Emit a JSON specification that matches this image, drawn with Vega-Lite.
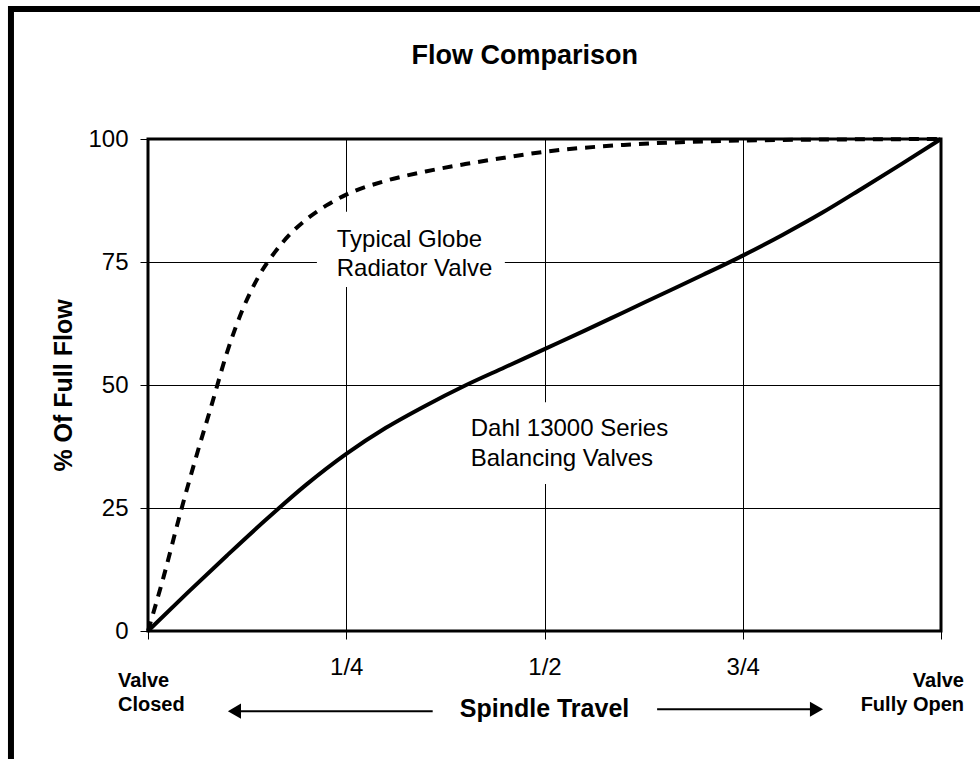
{
  "$schema": "https://vega.github.io/schema/vega-lite/v6.json",
  "autosize": {"type": "none"},
  "width": 793,
  "height": 492,
  "padding": {"left": 148, "top": 139, "right": 39, "bottom": 128},
  "background": "white",
  "config": {
    "font": "Liberation Sans",
    "view": {"stroke": "black", "strokeWidth": 3},
    "axis": {
      "grid": true,
      "gridColor": "black",
      "gridWidth": 1,
      "gridOpacity": 1,
      "domain": false,
      "tickColor": "black",
      "tickWidth": 1,
      "tickSize": 8,
      "labelColor": "black",
      "labelFont": "Liberation Sans",
      "labelFontSize": 24,
      "titleColor": "black",
      "titleFont": "Liberation Sans"
    }
  },
  "layer": [
    {
      "data": {"values": [{"a": 1}]},
      "mark": {"type": "rect", "fill": "white", "stroke": null},
      "encoding": {
        "x": {"datum": 0.213, "type": "quantitative", "scale": {"domain": [0, 1], "nice": false, "zero": false},
          "axis": {
            "values": [0, 0.25, 0.5, 0.75, 1],
            "labelExpr": "datum.value == 0.25 ? '1/4' : datum.value == 0.5 ? '1/2' : datum.value == 0.75 ? '3/4' : ''",
            "labelPadding": 16,
            "labelFlush": false,
            "title": null
          }},
        "x2": {"datum": 0.45},
        "y": {"datum": 85.2, "type": "quantitative", "scale": {"domain": [0, 100], "nice": false, "zero": false},
          "axis": {
            "values": [0, 25, 50, 75, 100],
            "labelPadding": 12,
            "title": "% Of Full Flow",
            "titleFontSize": 25,
            "titleFontWeight": "bold",
            "titlePadding": 11
          }},
        "y2": {"datum": 69.9}
      }
    },
    {
      "data": {"values": [{"a": 1}]},
      "mark": {"type": "rect", "fill": "white", "stroke": null},
      "encoding": {
        "x": {"datum": 0.382, "type": "quantitative"},
        "x2": {"datum": 0.709},
        "y": {"datum": 46.5, "type": "quantitative"},
        "y2": {"datum": 29.9}
      }
    },
    {
      "data": {"values": [
        {"travel": 0, "flow": 0},
        {"travel": 0.02, "flow": 11.2},
        {"travel": 0.04, "flow": 23.5},
        {"travel": 0.06, "flow": 35},
        {"travel": 0.08, "flow": 45.8},
        {"travel": 0.1, "flow": 56.8},
        {"travel": 0.12, "flow": 65.6},
        {"travel": 0.14, "flow": 72.2},
        {"travel": 0.16, "flow": 77},
        {"travel": 0.18, "flow": 80.8},
        {"travel": 0.2, "flow": 83.7},
        {"travel": 0.225, "flow": 86.5},
        {"travel": 0.25, "flow": 88.7},
        {"travel": 0.3, "flow": 91.5},
        {"travel": 0.35, "flow": 93.4},
        {"travel": 0.4, "flow": 94.9},
        {"travel": 0.45, "flow": 96.2},
        {"travel": 0.5, "flow": 97.4},
        {"travel": 0.6, "flow": 98.8},
        {"travel": 0.7, "flow": 99.5},
        {"travel": 0.8, "flow": 99.8},
        {"travel": 1, "flow": 100}
      ]},
      "mark": {"type": "line", "color": "black", "strokeWidth": 4, "strokeDash": [10, 8], "interpolate": "monotone"},
      "encoding": {
        "x": {"field": "travel", "type": "quantitative"},
        "y": {"field": "flow", "type": "quantitative"}
      }
    },
    {
      "data": {"values": [
        {"travel": 0, "flow": 0},
        {"travel": 0.05, "flow": 7.8},
        {"travel": 0.1, "flow": 15.4},
        {"travel": 0.15, "flow": 22.8},
        {"travel": 0.2, "flow": 29.8},
        {"travel": 0.25, "flow": 36},
        {"travel": 0.3, "flow": 41.3},
        {"travel": 0.35, "flow": 45.8},
        {"travel": 0.4, "flow": 49.9},
        {"travel": 0.45, "flow": 53.6},
        {"travel": 0.5, "flow": 57.3},
        {"travel": 0.55, "flow": 61},
        {"travel": 0.6, "flow": 64.8},
        {"travel": 0.65, "flow": 68.6},
        {"travel": 0.7, "flow": 72.4},
        {"travel": 0.75, "flow": 76.3},
        {"travel": 0.8, "flow": 80.5},
        {"travel": 0.85, "flow": 85},
        {"travel": 0.9, "flow": 89.9},
        {"travel": 0.95, "flow": 94.9},
        {"travel": 1, "flow": 100}
      ]},
      "mark": {"type": "line", "color": "black", "strokeWidth": 4, "interpolate": "monotone"},
      "encoding": {
        "x": {"field": "travel", "type": "quantitative"},
        "y": {"field": "flow", "type": "quantitative"}
      }
    },
    {
      "data": {"values": [{"a": 1}]},
      "mark": {"type": "text", "text": ["Typical Globe", "Radiator Valve"], "align": "left", "baseline": "alphabetic", "fontSize": 24, "lineHeight": 29, "color": "black"},
      "encoding": {
        "x": {"datum": 0.238, "type": "quantitative"},
        "y": {"datum": 78, "type": "quantitative"}
      }
    },
    {
      "data": {"values": [{"a": 1}]},
      "mark": {"type": "text", "text": ["Dahl 13000 Series", "Balancing Valves"], "align": "left", "baseline": "alphabetic", "fontSize": 24, "lineHeight": 30, "color": "black"},
      "encoding": {
        "x": {"datum": 0.407, "type": "quantitative"},
        "y": {"datum": 39.6, "type": "quantitative"}
      }
    },
    {
      "data": {"values": [{"a": 1}]},
      "mark": {"type": "text", "text": "Flow Comparison", "align": "center", "baseline": "alphabetic", "fontSize": 27, "fontWeight": "bold", "color": "black"},
      "encoding": {
        "x": {"datum": 0.475, "type": "quantitative"},
        "y": {"datum": 115.2, "type": "quantitative"}
      }
    },
    {
      "data": {"values": [{"a": 1}]},
      "mark": {"type": "text", "text": ["Valve", "Closed"], "align": "left", "baseline": "alphabetic", "fontSize": 20, "fontWeight": "bold", "lineHeight": 24, "color": "black"},
      "encoding": {
        "x": {"datum": -0.0378, "type": "quantitative"},
        "y": {"datum": -11.4, "type": "quantitative"}
      }
    },
    {
      "data": {"values": [{"a": 1}]},
      "mark": {"type": "text", "text": ["Valve", "Fully Open"], "align": "right", "baseline": "alphabetic", "fontSize": 20, "fontWeight": "bold", "lineHeight": 24, "color": "black"},
      "encoding": {
        "x": {"datum": 1.029, "type": "quantitative"},
        "y": {"datum": -11.4, "type": "quantitative"}
      }
    },
    {
      "data": {"values": [{"a": 1}]},
      "mark": {"type": "text", "text": "Spindle Travel", "align": "center", "baseline": "alphabetic", "fontSize": 25, "fontWeight": "bold", "color": "black"},
      "encoding": {
        "x": {"datum": 0.5, "type": "quantitative"},
        "y": {"datum": -17.5, "type": "quantitative"}
      }
    },
    {
      "data": {"values": [{"a": 1}]},
      "mark": {"type": "rule", "color": "black", "strokeWidth": 2},
      "encoding": {
        "x": {"datum": 0.109, "type": "quantitative"},
        "x2": {"datum": 0.359},
        "y": {"datum": -16.3, "type": "quantitative"}
      }
    },
    {
      "data": {"values": [{"a": 1}]},
      "mark": {"type": "rule", "color": "black", "strokeWidth": 2},
      "encoding": {
        "x": {"datum": 0.642, "type": "quantitative"},
        "x2": {"datum": 0.843},
        "y": {"datum": -15.9, "type": "quantitative"}
      }
    },
    {
      "data": {"values": [{"a": 1}]},
      "mark": {"type": "point", "shape": "triangle-left", "filled": true, "color": "black", "opacity": 1, "size": 230},
      "encoding": {
        "x": {"datum": 0.109, "type": "quantitative"},
        "y": {"datum": -16.3, "type": "quantitative"}
      }
    },
    {
      "data": {"values": [{"a": 1}]},
      "mark": {"type": "point", "shape": "triangle-right", "filled": true, "color": "black", "opacity": 1, "size": 230},
      "encoding": {
        "x": {"datum": 0.843, "type": "quantitative"},
        "y": {"datum": -15.9, "type": "quantitative"}
      }
    },
    {
      "data": {"values": [{"a": 1}]},
      "mark": {"type": "rect", "fill": "white", "fillOpacity": 0, "stroke": "black", "strokeWidth": 6},
      "encoding": {
        "x": {"datum": -0.1728, "type": "quantitative"},
        "x2": {"datum": 1.3},
        "y": {"datum": 126.4, "type": "quantitative"},
        "y2": {"datum": -60}
      }
    }
  ]
}
